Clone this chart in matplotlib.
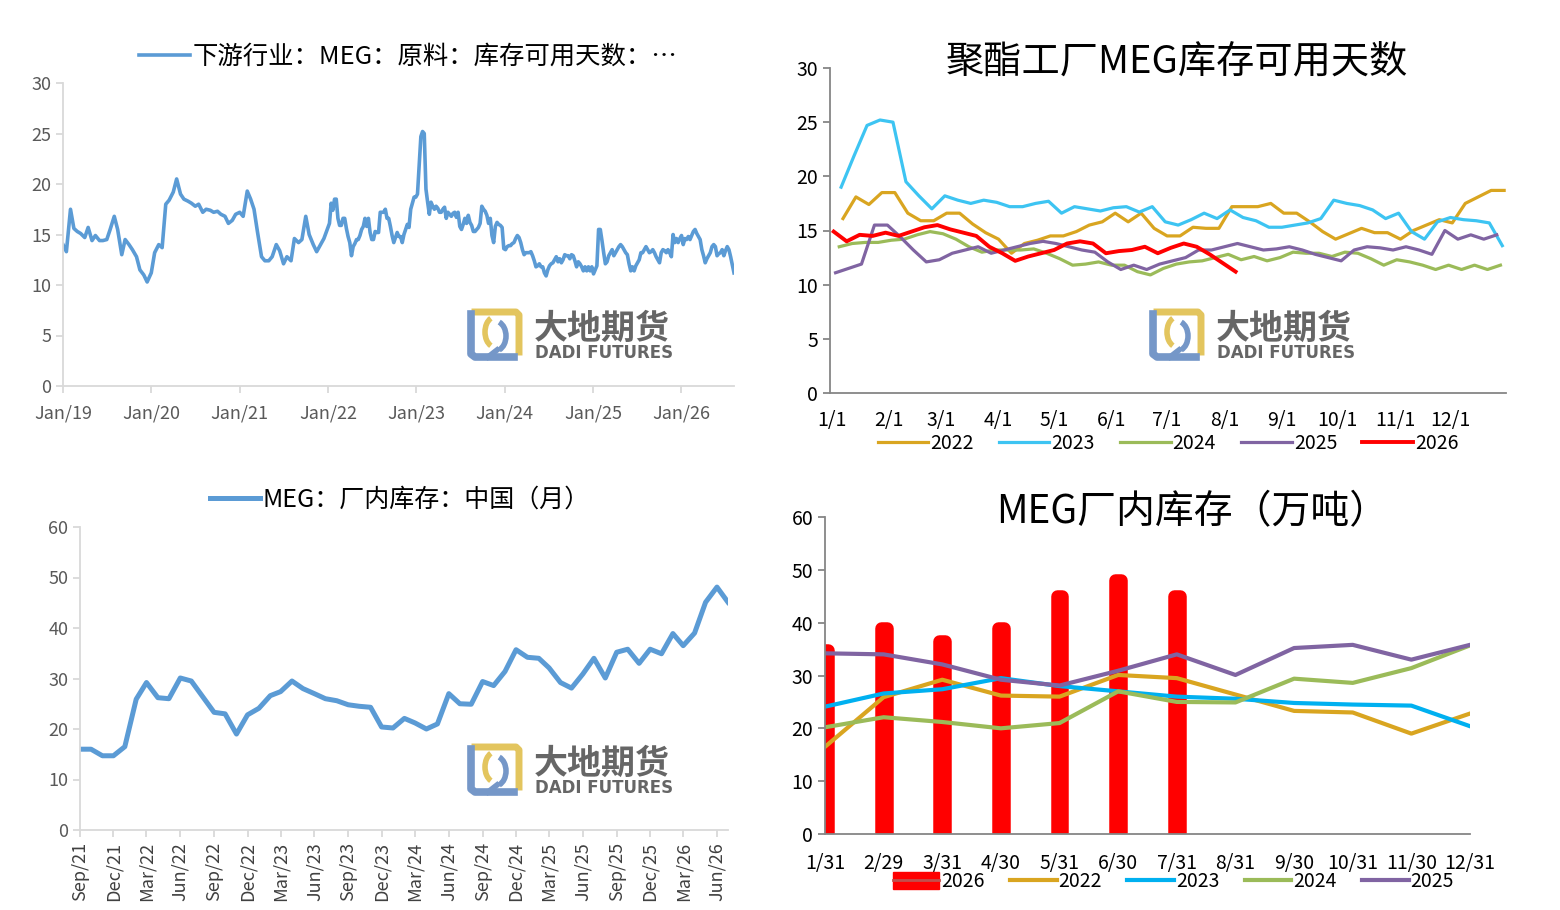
import pandas as pd
import matplotlib
matplotlib.use('Agg')
import matplotlib.pyplot as plt
import matplotlib.dates as mdates
from matplotlib.lines import Line2D
from matplotlib.patches import Patch, Arc

plt.rcParams['font.family'] = ['Noto Sans CJK SC', 'DejaVu Sans']
plt.rcParams['axes.unicode_minus'] = False

# ---------------- data ----------------
# MEG stock days at polyester plants, 2019-2021 read twice a month (1st / 15th)
early_days = [
    14.0, 13.3, 17.5, 15.6, 15.3, 15.1, 14.7, 15.7, 14.4, 14.9, 14.4, 14.4,
    14.5, 15.5, 16.8, 15.5, 13.0, 14.5, 14.0, 13.5, 12.8, 11.5, 11.0, 10.3,
    11.2, 13.2, 14.0, 13.7, 18.0, 18.4, 19.2, 20.5, 19.0, 18.5, 18.3, 18.1,
    17.8, 18.0, 17.2, 17.5, 17.4, 17.2, 17.3, 17.0, 16.8, 16.1, 16.4, 17.0,
    17.2, 16.8, 19.3, 18.5, 17.5, 15.3, 12.8, 12.4, 12.4, 12.8, 14.0, 13.4,
    12.1, 12.8, 12.4, 14.6, 14.2, 14.5, 16.8, 15.0, 14.0, 13.3, 14.0, 14.6,
]
# weekly (Fridays) from 2022 on
days_2022 = [16.1, 18.1, 17.4, 18.5, 18.5, 16.6, 15.9, 15.9, 16.6, 16.6,
             15.6, 14.8, 14.2, 12.9, 13.8, 14.1, 14.5, 14.5, 14.9, 15.5,
             15.8, 16.6, 15.8, 16.6, 15.2, 14.5, 14.5, 15.3, 15.2, 15.2,
             17.2, 17.2, 17.2, 17.5, 16.6, 16.6, 15.8, 14.9, 14.2, 14.7,
             15.2, 14.8, 14.8, 14.2, 15.0, 15.5, 16.0, 15.7, 17.5, 18.1,
             18.7, 18.7]
days_2023 = [19.0, 21.9, 24.7, 25.2, 25.0, 19.5, 18.2, 17.0, 18.2, 17.8,
             17.5, 17.8, 17.6, 17.2, 17.2, 17.5, 17.7, 16.6, 17.2, 17.0,
             16.8, 17.1, 17.2, 16.7, 17.2, 15.8, 15.5, 16.0, 16.6, 16.1,
             16.9, 16.2, 15.9, 15.3, 15.3, 15.5, 15.7, 16.1, 17.8, 17.5,
             17.3, 16.9, 16.1, 16.6, 14.9, 14.2, 15.8, 16.2, 16.0, 15.9,
             15.7, 13.6]
days_2024 = [13.5, 13.8, 13.9, 13.9, 14.1, 14.2, 14.6, 14.9, 14.7, 14.2,
             13.5, 13.0, 13.2, 13.2, 13.2, 13.3, 12.9, 12.4, 11.8, 11.9,
             12.1, 11.8, 11.8, 11.2, 10.9, 11.5, 11.9, 12.1, 12.2, 12.5,
             12.8, 12.3, 12.6, 12.2, 12.5, 13.0, 12.9, 12.9, 12.6, 13.0,
             12.9, 12.4, 11.8, 12.3, 12.1, 11.8, 11.4, 11.8, 11.4, 11.8,
             11.4, 11.8]
days_2025 = [11.1, 11.5, 11.9, 15.5, 15.5, 14.4, 13.2, 12.1, 12.3, 12.9,
             13.2, 13.5, 12.9, 13.2, 13.5, 13.8, 14.0, 13.8, 13.5, 13.2,
             13.0, 12.1, 11.4, 11.8, 11.4, 11.9, 12.2, 12.5, 13.2, 13.2,
             13.5, 13.8, 13.5, 13.2, 13.3, 13.5, 13.2, 12.8, 12.5, 12.2,
             13.2, 13.5, 13.4, 13.2, 13.5, 13.2, 12.8, 15.0, 14.2, 14.6,
             14.2, 14.6]
days_2026 = [14.9, 14.0, 14.6, 14.5, 14.8, 14.5, 14.9, 15.3, 15.5, 15.1,
             14.8, 14.5, 13.5, 12.9, 12.2, 12.6, 12.9, 13.2, 13.8, 14.0,
             13.8, 12.9, 13.1, 13.2, 13.5, 12.9, 13.4, 13.8, 13.5, 12.8,
             12.0, 11.2]
week_start = {'2022': '2022-01-07', '2023': '2023-01-06', '2024': '2024-01-05',
              '2025': '2025-01-03', '2026': '2026-01-02'}
week_series = {'2022': days_2022, '2023': days_2023, '2024': days_2024,
               '2025': days_2025, '2026': days_2026}

# MEG plant inventory, China, monthly Sep-2021 .. Jul-2026 (10k t)
monthly_stock = [
    16.0, 16.0, 14.7, 14.7,
    16.5, 25.9, 29.2, 26.2, 26.0, 30.1, 29.5, 26.4, 23.3, 23.0, 19.0, 22.8,
    24.1, 26.6, 27.4, 29.5, 28.0, 27.0, 26.0, 25.6, 24.8, 24.5, 24.3, 20.4,
    20.2, 22.1, 21.2, 20.0, 21.0, 27.0, 25.0, 24.9, 29.4, 28.6, 31.4, 35.7,
    34.2, 34.0, 32.1, 29.2, 28.1, 30.9, 34.0, 30.1, 35.2, 35.8, 33.0, 35.8,
    34.9, 38.9, 36.5, 39.0, 45.1, 48.1, 45.1,
]
month_end_labels = ['1/31', '2/29', '3/31', '4/30', '5/31', '6/30',
                    '7/31', '8/31', '9/30', '10/31', '11/30', '12/31']
season_labels = ['1/1', '2/1', '3/1', '4/1', '5/1', '6/1',
                 '7/1', '8/1', '9/1', '10/1', '11/1', '12/1']
season_ticks = [0, 31, 59, 90, 120, 151, 181, 212, 243, 273, 304, 334]

year_colors = {'2022': '#D9A520', '2023': '#3DC4F2', '2024': '#9BBB59',
               '2025': '#8064A2', '2026': '#FF0000'}
bar_colors = {'2022': '#D9A520', '2023': '#00B0F0', '2024': '#9BBB59',
              '2025': '#8064A2'}

W, H = 1560, 910
fig = plt.figure(figsize=(W / 100, H / 100), dpi=100)


def frame(l, r, t, b):
    return [l / W, 1 - b / H, (r - l) / W, (b - t) / H]


def logo(x0, y0):
    # watermark, drawn in figure pixels from its top-left corner
    def p(x, y):
        return ((x0 + x) / W, 1 - (y0 + y) / H)
    gold, blue, grey = '#E3C55E', '#7597C8', '#666666'
    tf = fig.transFigure
    fig.add_artist(Line2D(*zip(p(7, 4), p(48, 4), p(51, 7), p(51, 44)), color=gold,
                          lw=5, transform=tf, solid_joinstyle='round'))
    fig.add_artist(Line2D(*zip(p(3, 6), p(3, 46), p(7, 49), p(46, 49)), color=blue,
                          lw=5.5, transform=tf, solid_joinstyle='round'))
    cx, cy = p(27, 24)
    fig.add_artist(Arc((cx, cy), 20 / W, 30 / H, theta1=100, theta2=260,
                       color=gold, lw=4, transform=tf))
    cx, cy = p(27, 28)
    fig.add_artist(Arc((cx, cy), 22 / W, 30 / H, theta1=-80, theta2=80,
                       color=blue, lw=4, transform=tf))
    fig.add_artist(Line2D(*zip(p(29, 42), p(20, 49)), color=blue, lw=4, transform=tf))
    fig.text(*p(66, 31), '大地期货', fontsize=24.5, fontweight='bold', color=grey,
             va='baseline', ha='left')
    fig.text(*p(67, 45), 'DADI FUTURES', fontsize=12, fontweight='bold', color=grey,
             va='center', ha='left', family='DejaVu Sans')


# ---------------- top-left: long history ----------------
early_dates = pd.date_range('2019-01-01', '2021-12-15', freq='SMS')
all_dates = list(early_dates)
all_vals = list(early_days)
for yr in ['2022', '2023', '2024', '2025', '2026']:
    all_dates += list(pd.date_range(week_start[yr], periods=len(week_series[yr]), freq='7D'))
    all_vals += week_series[yr]

ax1 = fig.add_axes(frame(63, 734, 83, 386))
ax1.plot(all_dates, all_vals, color='#5B9BD5', lw=2.6, label='下游行业：MEG：原料：库存可用天数：…')
ax1.set_xlim(pd.Timestamp('2019-01-01'), all_dates[-1])
ax1.set_ylim(0, 30)
ax1.set_yticks(range(0, 31, 5))
ax1.xaxis.set_major_locator(mdates.YearLocator())
ax1.xaxis.set_major_formatter(mdates.DateFormatter('%b/%y'))
for s in ['top', 'right']:
    ax1.spines[s].set_visible(False)
for s in ['left', 'bottom']:
    ax1.spines[s].set_color('#D9D9D9')
    ax1.spines[s].set_linewidth(1.3)
ax1.tick_params(colors='#D9D9D9', labelcolor='#595959', labelsize=13, length=5, width=1.3)
ax1.tick_params(axis='x', pad=8)
ax1.legend(loc='center', bbox_to_anchor=(0.515, 1.086), frameon=False, fontsize=18.3,
           handlelength=2.0, handletextpad=0.1, borderpad=0)
logo(468, 308)

# ---------------- top-right: seasonal stock days ----------------
ax2 = fig.add_axes(frame(830, 1506, 68, 393))
for yr in ['2022', '2023', '2024', '2025', '2026']:
    d = pd.date_range(week_start[yr], periods=len(week_series[yr]), freq='7D')
    ax2.plot(d.dayofyear - 1, week_series[yr], color=year_colors[yr],
             lw=2.8 if yr == '2026' else 2.3, label=yr)
ax2.set_xlim(-1, 364)
ax2.set_ylim(0, 30)
ax2.set_yticks(range(0, 31, 5))
ax2.set_xticks(season_ticks)
ax2.set_xticklabels(season_labels)
for s in ['top', 'right']:
    ax2.spines[s].set_visible(False)
for s in ['left', 'bottom']:
    ax2.spines[s].set_color('#868686')
    ax2.spines[s].set_linewidth(1.3)
ax2.tick_params(axis='y', colors='#868686', labelcolor='black', labelsize=14, length=5, width=1.3)
ax2.tick_params(axis='x', length=0, labelcolor='black', labelsize=14, pad=12)
ax2.text(0.513, 1.018, '聚酯工厂MEG库存可用天数', transform=ax2.transAxes,
         ha='center', va='center', fontsize=27.5)
ax2.legend(loc='center', bbox_to_anchor=(0.5, -0.154), ncol=5, frameon=False,
           fontsize=14, handlelength=2.6, handletextpad=0.1, columnspacing=1.3, borderpad=0)
logo(1150, 308)

# ---------------- bottom-left: monthly inventory ----------------
months = pd.date_range('2021-09-01', periods=len(monthly_stock), freq='MS')
ax3 = fig.add_axes(frame(80, 728, 527, 830))
ax3.plot(months, monthly_stock, color='#5B9BD5', lw=3.6, label='MEG：厂内库存：中国（月）')
ax3.set_xlim(months[0], months[-1])
ax3.set_ylim(0, 60)
ax3.set_yticks(range(0, 61, 10))
ax3.set_xticks(months[::3])
ax3.xaxis.set_major_formatter(mdates.DateFormatter('%b/%y'))
ax3.tick_params(axis='x', labelrotation=90)
for s in ['top', 'right']:
    ax3.spines[s].set_visible(False)
for s in ['left', 'bottom']:
    ax3.spines[s].set_color('#D9D9D9')
    ax3.spines[s].set_linewidth(1.3)
ax3.tick_params(colors='#D9D9D9', labelcolor='#404040', labelsize=13, length=5, width=1.3)
ax3.tick_params(axis='y', labelcolor='#595959')
ax3.legend(loc='center', bbox_to_anchor=(0.494, 1.089), frameon=False, fontsize=18,
           handlelength=2.0, handletextpad=0.1, borderpad=0)
logo(468, 743)

# ---------------- bottom-right: seasonal monthly inventory ----------------
ax4 = fig.add_axes(frame(825, 1470, 517, 834))
slices = {'2022': monthly_stock[4:16], '2023': monthly_stock[16:28],
          '2024': monthly_stock[28:40], '2025': monthly_stock[40:52]}
bars_2026 = monthly_stock[52:59]
cats = list(range(len(month_end_labels)))
ax4.bar(cats[:len(bars_2026)], bars_2026, width=0.1, color='#FF0000',
        edgecolor='#FF0000', linewidth=9, joinstyle='round', zorder=1)
for yr in ['2022', '2023', '2024', '2025']:
    ax4.plot(cats, slices[yr], color=bar_colors[yr], lw=3.0, zorder=2)
ax4.set_xlim(0, 11)
ax4.set_ylim(0, 60)
ax4.set_yticks(range(0, 61, 10))
ax4.set_xticks(cats)
ax4.set_xticklabels(month_end_labels)
for s in ['top', 'right']:
    ax4.spines[s].set_visible(False)
for s in ['left', 'bottom']:
    ax4.spines[s].set_color('#868686')
    ax4.spines[s].set_linewidth(1.3)
    ax4.spines[s].set_zorder(3)
ax4.tick_params(axis='y', colors='#868686', labelcolor='black', labelsize=14, length=5, width=1.3)
ax4.tick_params(axis='x', length=0, labelcolor='black', labelsize=14, pad=14)
ax4.text(0.57, 1.016, 'MEG厂内库存（万吨）', transform=ax4.transAxes,
         ha='center', va='center', fontsize=28)
handles = [(Patch(facecolor='#FF0000', edgecolor='#FF0000'),
            Line2D([], [], color='#C0504D', lw=2))]
labels = ['2026']
for yr in ['2022', '2023', '2024', '2025']:
    handles.append(Line2D([], [], color=bar_colors[yr], lw=3.0))
    labels.append(yr)
ax4.legend(handles, labels, loc='center', bbox_to_anchor=(0.54, -0.151), ncol=5,
           frameon=False, fontsize=14, handlelength=2.4, handleheight=1.0,
           handletextpad=0.1, columnspacing=1.3, borderpad=0)

fig.savefig('out.png', dpi=100)
